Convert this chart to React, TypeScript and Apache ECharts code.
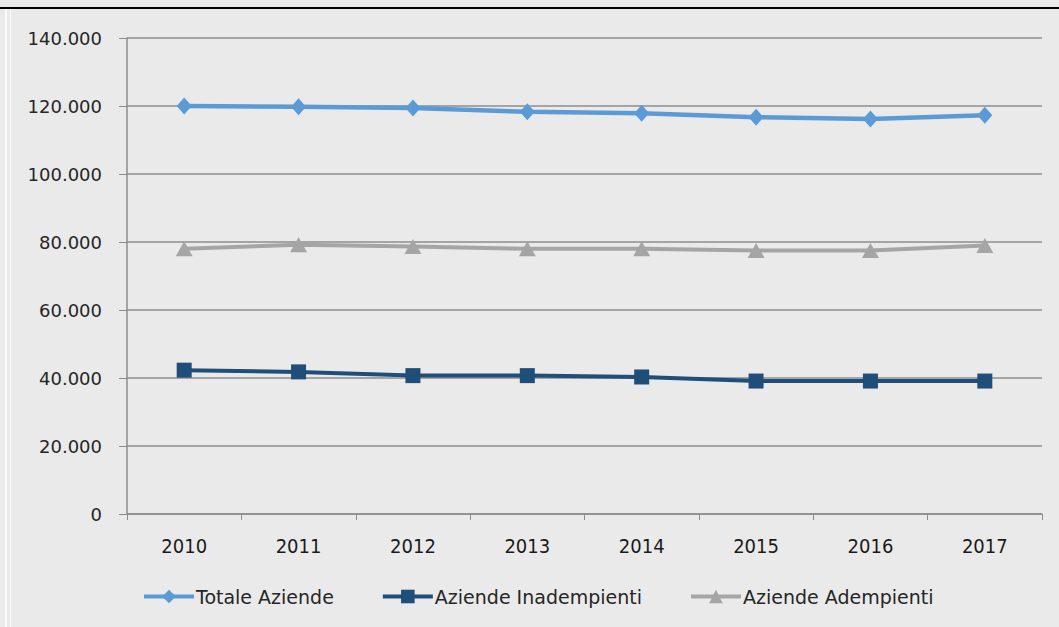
import React, { useEffect, useRef } from "react";
import * as echarts from "echarts";

const years = ["2010", "2011", "2012", "2013", "2014", "2015", "2016", "2017"];
const totaleAziende = [120000, 119800, 119400, 118300, 117900, 116700, 116200, 117300];
const aziendeInadempienti = [42300, 41800, 40700, 40700, 40300, 39100, 39100, 39100];
const aziendeAdempienti = [78000, 79200, 78700, 78000, 78000, 77500, 77500, 79000];
const yTicks = { min: 0, max: 140000, interval: 20000 };

const fmt = (v: number) => {
  if (v === 0) return "0";
  const s = String(Math.round(v));
  return s.replace(/\B(?=(\d{3})+(?!\d))/g, ".");
};

export default function App() {
  const ref = useRef<HTMLDivElement>(null);
  useEffect(() => {
    if (!ref.current) return;
    const chart = echarts.init(ref.current, undefined, { renderer: "svg" });
    chart.setOption({
      animation: false,
      backgroundColor: "#eaeaea",
      grid: { left: 127, right: 17, top: 38, bottom: 113, containLabel: false },
      legend: {
        left: 137,
        top: 582,
        itemWidth: 50,
        itemHeight: 17,
        itemGap: 47,
        lineStyle: { width: 4 },
        textStyle: { fontFamily: "DejaVu Sans", fontSize: 19, color: "#262626", padding: [0, 0, 0, -3] },
        data: ["Totale Aziende", "Aziende Inadempienti", "Aziende Adempienti"],
      },
      graphic: [
        { type: "rect", shape: { x: 0, y: 7, width: 1059, height: 2 }, style: { fill: "#000" }, silent: true },
        { type: "rect", shape: { x: 5, y: 9, width: 2, height: 618 }, style: { fill: "#fbfbfb" }, silent: true },
        { type: "rect", shape: { x: 10, y: 9, width: 1, height: 618 }, style: { fill: "#fbfbfb" }, silent: true },
      ],
      xAxis: {
        type: "category",
        data: years,
        boundaryGap: true,
        axisLine: { show: true, lineStyle: { color: "#8c8c8c", width: 1.5 } },
        axisTick: { show: true, length: 6, alignWithLabel: false, lineStyle: { color: "#8c8c8c" } },
        axisLabel: { margin: 22, fontFamily: "DejaVu Sans Condensed", fontSize: 20, color: "#1a1a1a" },
      },
      yAxis: {
        type: "value",
        min: yTicks.min,
        max: yTicks.max,
        interval: yTicks.interval,
        axisLine: { show: true, lineStyle: { color: "#8c8c8c", width: 1.5 } },
        axisTick: { show: true, length: 8, inside: false, lineStyle: { color: "#8c8c8c" } },
        axisLabel: { margin: 25, fontFamily: "DejaVu Sans", fontSize: 18, color: "#262626", formatter: fmt },
        splitLine: { show: true, lineStyle: { color: "#8c8c8c", width: 1.5 } },
      },
      series: [
        {
          name: "Totale Aziende",
          type: "line",
          data: totaleAziende,
          symbol: "diamond",
          symbolSize: [15, 17],
          lineStyle: { color: "#5b9bd5", width: 4.5 },
          itemStyle: { color: "#5b9bd5" },
        },
        {
          name: "Aziende Inadempienti",
          type: "line",
          data: aziendeInadempienti,
          symbol: "rect",
          symbolSize: 15,
          lineStyle: { color: "#1f4e79", width: 4 },
          itemStyle: { color: "#1f4e79" },
        },
        {
          name: "Aziende Adempienti",
          type: "line",
          data: aziendeAdempienti,
          symbol: "triangle",
          symbolSize: [17, 15],
          lineStyle: { color: "#a5a5a5", width: 4 },
          itemStyle: { color: "#a5a5a5" },
        },
      ],
    });
    return () => chart.dispose();
  }, []);
  return (
    <div
      ref={ref}
      style={{ position: "fixed", left: 0, top: 0, width: 1059, height: 627 }}
    />
  );
}
